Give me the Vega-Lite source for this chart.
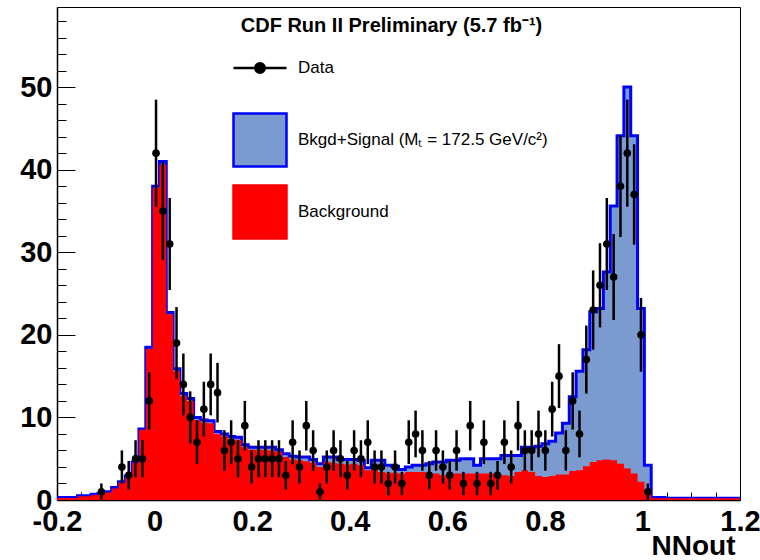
{
  "$schema": "https://vega.github.io/schema/vega-lite/v6.json",
  "width": 683,
  "height": 493,
  "autosize": "none",
  "padding": {"left": 57, "top": 7, "right": 20, "bottom": 60},
  "background": "white",
  "config": {"view": {"stroke": "black", "strokeWidth": 1}, "font": "Liberation Sans"},
  "title": {"text": "CDF Run II Preliminary (5.7 fb⁻¹)", "font": "Liberation Sans", "fontSize": 20, "fontWeight": "bold", "color": "black", "anchor": "middle", "offset": -45, "baseline": "alphabetic", "dx": -7},
  "data": {"values": [
    {"a": -0.2, "c": -0.193, "t": 0.3, "b": 0.25},
    {"a": -0.186, "c": -0.179, "t": 0.3, "b": 0.25},
    {"a": -0.172, "c": -0.165, "t": 0.3, "b": 0.25},
    {"a": -0.158, "c": -0.151, "t": 0.5, "b": 0.45},
    {"a": -0.144, "c": -0.137, "t": 0.5, "b": 0.45},
    {"a": -0.13, "c": -0.123, "t": 0.7, "b": 0.6},
    {"a": -0.116, "c": -0.109, "t": 0.8, "b": 0.7, "n": 1, "lo": 0, "hi": 2},
    {"a": -0.102, "c": -0.095, "t": 1.0, "b": 0.9},
    {"a": -0.088, "c": -0.081, "t": 1.5, "b": 1.4},
    {"a": -0.074, "c": -0.067, "t": 2.2, "b": 2.1, "n": 4, "lo": 2, "hi": 6},
    {"a": -0.06, "c": -0.053, "t": 2.9, "b": 2.8, "n": 3, "lo": 1.27, "hi": 4.73},
    {"a": -0.046, "c": -0.039, "t": 4.6, "b": 4.5, "n": 5, "lo": 2.76, "hi": 7.24},
    {"a": -0.032, "c": -0.025, "t": 8.6, "b": 8.5, "n": 5, "lo": 2.76, "hi": 7.24},
    {"a": -0.018, "c": -0.011, "t": 18.5, "b": 18.3, "n": 12, "lo": 8.54, "hi": 15.46},
    {"a": -0.004, "c": 0.003, "t": 38.0, "b": 37.8, "n": 42, "lo": 35.52, "hi": 48.48},
    {"a": 0.01, "c": 0.017, "t": 41.0, "b": 40.6, "n": 35, "lo": 29.08, "hi": 40.92},
    {"a": 0.024, "c": 0.031, "t": 22.7, "b": 22.5, "n": 31, "lo": 25.43, "hi": 36.57},
    {"a": 0.038, "c": 0.045, "t": 15.9, "b": 15.6, "n": 19, "lo": 14.64, "hi": 23.36},
    {"a": 0.052, "c": 0.059, "t": 12.9, "b": 12.6, "n": 14, "lo": 10.26, "hi": 17.74},
    {"a": 0.066, "c": 0.073, "t": 12.3, "b": 12.0, "n": 10, "lo": 6.84, "hi": 13.16},
    {"a": 0.08, "c": 0.087, "t": 10.0, "b": 9.7, "n": 7, "lo": 4.35, "hi": 9.65},
    {"a": 0.094, "c": 0.101, "t": 9.7, "b": 9.4, "n": 11, "lo": 7.68, "hi": 14.32},
    {"a": 0.108, "c": 0.115, "t": 9.6, "b": 9.3, "n": 14, "lo": 10.26, "hi": 17.74},
    {"a": 0.122, "c": 0.129, "t": 8.3, "b": 8.0, "n": 13, "lo": 9.39, "hi": 16.61},
    {"a": 0.136, "c": 0.143, "t": 8.0, "b": 7.7, "n": 6, "lo": 3.55, "hi": 8.45},
    {"a": 0.15, "c": 0.157, "t": 7.7, "b": 7.4, "n": 7, "lo": 4.35, "hi": 9.65},
    {"a": 0.164, "c": 0.171, "t": 7.6, "b": 7.3, "n": 5, "lo": 2.76, "hi": 7.24},
    {"a": 0.178, "c": 0.185, "t": 6.7, "b": 6.4, "n": 9, "lo": 6, "hi": 12},
    {"a": 0.192, "c": 0.199, "t": 6.4, "b": 6.1, "n": 4, "lo": 2, "hi": 6},
    {"a": 0.206, "c": 0.213, "t": 6.4, "b": 6.1, "n": 5, "lo": 2.76, "hi": 7.24},
    {"a": 0.22, "c": 0.227, "t": 6.4, "b": 6.1, "n": 5, "lo": 2.76, "hi": 7.24},
    {"a": 0.234, "c": 0.241, "t": 6.4, "b": 6.0, "n": 5, "lo": 2.76, "hi": 7.24},
    {"a": 0.248, "c": 0.255, "t": 6.1, "b": 5.8, "n": 5, "lo": 2.76, "hi": 7.24},
    {"a": 0.262, "c": 0.269, "t": 5.6, "b": 5.2, "n": 3, "lo": 1.27, "hi": 4.73},
    {"a": 0.276, "c": 0.283, "t": 5.3, "b": 4.9, "n": 7, "lo": 4.35, "hi": 9.65},
    {"a": 0.29, "c": 0.297, "t": 5.2, "b": 4.8, "n": 4, "lo": 2, "hi": 6},
    {"a": 0.304, "c": 0.311, "t": 5.2, "b": 4.7, "n": 9, "lo": 6, "hi": 12},
    {"a": 0.318, "c": 0.325, "t": 4.9, "b": 4.5, "n": 6, "lo": 3.55, "hi": 8.45},
    {"a": 0.332, "c": 0.339, "t": 4.4, "b": 4.0, "n": 1, "lo": 0, "hi": 2},
    {"a": 0.346, "c": 0.353, "t": 5.2, "b": 4.6, "n": 4, "lo": 2, "hi": 6},
    {"a": 0.36, "c": 0.367, "t": 5.2, "b": 4.5, "n": 6, "lo": 3.55, "hi": 8.45},
    {"a": 0.374, "c": 0.381, "t": 4.9, "b": 4.4, "n": 5, "lo": 2.76, "hi": 7.24},
    {"a": 0.388, "c": 0.395, "t": 4.9, "b": 4.3, "n": 3, "lo": 1.27, "hi": 4.73},
    {"a": 0.402, "c": 0.409, "t": 4.9, "b": 4.4, "n": 6, "lo": 3.55, "hi": 8.45},
    {"a": 0.416, "c": 0.423, "t": 4.8, "b": 4.2, "n": 5, "lo": 2.76, "hi": 7.24},
    {"a": 0.43, "c": 0.437, "t": 3.9, "b": 3.6, "n": 7, "lo": 4.35, "hi": 9.65},
    {"a": 0.444, "c": 0.451, "t": 4.8, "b": 3.7, "n": 4, "lo": 2, "hi": 6},
    {"a": 0.458, "c": 0.465, "t": 4.8, "b": 3.4, "n": 4, "lo": 2, "hi": 6},
    {"a": 0.472, "c": 0.479, "t": 4.2, "b": 3.3, "n": 2, "lo": 0.59, "hi": 3.41},
    {"a": 0.486, "c": 0.493, "t": 4.1, "b": 3.3, "n": 4, "lo": 2, "hi": 6},
    {"a": 0.5, "c": 0.507, "t": 3.7, "b": 3.2, "n": 2, "lo": 0.59, "hi": 3.41},
    {"a": 0.514, "c": 0.521, "t": 4.0, "b": 3.4, "n": 7, "lo": 4.35, "hi": 9.65},
    {"a": 0.528, "c": 0.535, "t": 4.2, "b": 3.4, "n": 8, "lo": 5.17, "hi": 10.83},
    {"a": 0.542, "c": 0.549, "t": 4.2, "b": 3.4, "n": 6, "lo": 3.55, "hi": 8.45},
    {"a": 0.556, "c": 0.563, "t": 4.4, "b": 3.2, "n": 3, "lo": 1.27, "hi": 4.73},
    {"a": 0.57, "c": 0.577, "t": 4.6, "b": 3.2, "n": 6, "lo": 3.55, "hi": 8.45},
    {"a": 0.584, "c": 0.591, "t": 4.6, "b": 3.0, "n": 4, "lo": 2, "hi": 6},
    {"a": 0.598, "c": 0.605, "t": 4.8, "b": 3.0, "n": 3, "lo": 1.27, "hi": 4.73},
    {"a": 0.612, "c": 0.619, "t": 4.8, "b": 3.2, "n": 6, "lo": 3.55, "hi": 8.45},
    {"a": 0.626, "c": 0.633, "t": 5.0, "b": 3.2, "n": 2, "lo": 0.59, "hi": 3.41},
    {"a": 0.64, "c": 0.647, "t": 5.0, "b": 3.2, "n": 9, "lo": 6, "hi": 12},
    {"a": 0.654, "c": 0.661, "t": 4.2, "b": 3.2, "n": 2, "lo": 0.59, "hi": 3.41},
    {"a": 0.668, "c": 0.675, "t": 5.0, "b": 3.2, "n": 7, "lo": 4.35, "hi": 9.65},
    {"a": 0.682, "c": 0.689, "t": 5.0, "b": 3.2, "n": 2, "lo": 0.59, "hi": 3.41},
    {"a": 0.696, "c": 0.703, "t": 5.0, "b": 3.0, "n": 3, "lo": 1.27, "hi": 4.73},
    {"a": 0.71, "c": 0.717, "t": 5.4, "b": 3.0, "n": 7, "lo": 4.35, "hi": 9.65},
    {"a": 0.724, "c": 0.731, "t": 5.4, "b": 2.9, "n": 4, "lo": 2, "hi": 6},
    {"a": 0.738, "c": 0.745, "t": 5.4, "b": 3.4, "n": 9, "lo": 6, "hi": 12},
    {"a": 0.752, "c": 0.759, "t": 6.4, "b": 3.6, "n": 6, "lo": 3.55, "hi": 8.45},
    {"a": 0.766, "c": 0.773, "t": 6.4, "b": 3.4, "n": 6, "lo": 3.55, "hi": 8.45},
    {"a": 0.78, "c": 0.787, "t": 6.5, "b": 2.9, "n": 8, "lo": 5.17, "hi": 10.83},
    {"a": 0.794, "c": 0.801, "t": 6.8, "b": 2.8, "n": 6, "lo": 3.55, "hi": 8.45},
    {"a": 0.808, "c": 0.815, "t": 7.1, "b": 2.9, "n": 11, "lo": 7.68, "hi": 14.32},
    {"a": 0.822, "c": 0.829, "t": 8.1, "b": 3.1, "n": 15, "lo": 11.13, "hi": 18.87},
    {"a": 0.836, "c": 0.843, "t": 9.3, "b": 3.1, "n": 6, "lo": 3.55, "hi": 8.45},
    {"a": 0.85, "c": 0.857, "t": 12.5, "b": 3.5, "n": 12, "lo": 8.54, "hi": 15.46},
    {"a": 0.864, "c": 0.871, "t": 15.6, "b": 3.6, "n": 8, "lo": 5.17, "hi": 10.83},
    {"a": 0.878, "c": 0.885, "t": 18.2, "b": 4.1, "n": 17, "lo": 12.88, "hi": 21.12},
    {"a": 0.892, "c": 0.899, "t": 22.8, "b": 4.6, "n": 23, "lo": 18.2, "hi": 27.8},
    {"a": 0.906, "c": 0.913, "t": 23.2, "b": 4.8, "n": 26, "lo": 20.9, "hi": 31.1},
    {"a": 0.92, "c": 0.927, "t": 27.6, "b": 4.9, "n": 31, "lo": 25.43, "hi": 36.57},
    {"a": 0.934, "c": 0.941, "t": 35.6, "b": 4.8, "n": 27, "lo": 21.8, "hi": 32.2},
    {"a": 0.948, "c": 0.955, "t": 44.1, "b": 4.4, "n": 38, "lo": 31.84, "hi": 44.16},
    {"a": 0.962, "c": 0.969, "t": 50.0, "b": 3.8, "n": 42, "lo": 35.52, "hi": 48.48},
    {"a": 0.976, "c": 0.983, "t": 44.1, "b": 3.2, "n": 37, "lo": 30.92, "hi": 43.08},
    {"a": 0.99, "c": 0.997, "t": 23.2, "b": 2.2, "n": 20, "lo": 15.53, "hi": 24.47},
    {"a": 1.004, "c": 1.011, "t": 4.2, "b": 1.2, "n": 1, "lo": 0, "hi": 2},
    {"a": 1.018, "c": 1.025, "t": 0.3, "b": 0.2},
    {"a": 1.032, "c": 1.039, "t": 0.3, "b": 0.2},
    {"a": 1.046, "c": 1.053, "t": 0.2, "b": 0.2},
    {"a": 1.06, "c": 1.067, "t": 0.2, "b": 0.2},
    {"a": 1.074, "c": 1.081, "t": 0.2, "b": 0.2},
    {"a": 1.088, "c": 1.095, "t": 0.2, "b": 0.2},
    {"a": 1.102, "c": 1.109, "t": 0.2, "b": 0.2},
    {"a": 1.116, "c": 1.123, "t": 0.2, "b": 0.2},
    {"a": 1.13, "c": 1.137, "t": 0.2, "b": 0.2},
    {"a": 1.144, "c": 1.151, "t": 0.2, "b": 0.2},
    {"a": 1.158, "c": 1.165, "t": 0.2, "b": 0.2},
    {"a": 1.172, "c": 1.179, "t": 0.2, "b": 0.2},
    {"a": 1.186, "c": 1.193, "t": 0.2, "b": 0.2},
    {"a": 1.2, "t": 0.2, "b": 0.2}
  ]},
  "layer": [
    {
      "mark": {"type": "area", "interpolate": "step-after", "orient": "vertical", "color": "#7b9ad0", "opacity": 1},
      "encoding": {
        "x": {"field": "a", "type": "quantitative", "scale": {"domain": [-0.2, 1.2], "nice": false, "zero": false},
          "axis": {"orient": "bottom", "values": [-0.2, 0, 0.2, 0.4, 0.6, 0.8, 1, 1.2], "tickSize": -15, "tickColor": "black", "tickWidth": 1, "domainColor": "black", "domainWidth": 1.5, "grid": false, "labelFlush": false, "labelOverlap": false, "labelPadding": 22, "labelFont": "Liberation Sans", "labelFontWeight": "bold", "labelFontSize": 29, "labelColor": "black", "labelExpr": "datum.value < 0 ? '-' + format(-datum.value, '~g') : format(datum.value, '~g')", "title": "NNout", "titleFont": "Liberation Sans", "titleFontWeight": "bold", "titleFontSize": 28, "titleColor": "black", "titleAlign": "right", "titleBaseline": "alphabetic", "titleX": 678, "titleY": 54}},
        "y": {"field": "t", "type": "quantitative", "scale": {"domain": [0, 59.7], "nice": false},
          "axis": {"orient": "left", "values": [0, 10, 20, 30, 40, 50], "tickSize": -18, "tickColor": "black", "tickWidth": 1, "domainColor": "black", "domainWidth": 1.5, "grid": false, "labelPadding": 23, "labelFont": "Liberation Sans", "labelFontWeight": "bold", "labelFontSize": 29, "labelColor": "black", "labelOverlap": false, "title": null}}
      }
    },
    {
      "mark": {"type": "line", "interpolate": "step-after", "color": "#0000ff", "strokeWidth": 3},
      "encoding": {
        "x": {"field": "a", "type": "quantitative", "scale": {"domain": [-0.2, 1.2], "nice": false, "zero": false},
          "axis": {"orient": "bottom", "values": [-0.15, -0.1, -0.05, 0.05, 0.1, 0.15, 0.25, 0.3, 0.35, 0.45, 0.5, 0.55, 0.65, 0.7, 0.75, 0.85, 0.9, 0.95, 1.05, 1.1, 1.15], "tickSize": -8, "tickColor": "black", "tickWidth": 1, "labels": false, "domain": false, "grid": false, "title": null}},
        "y": {"field": "t", "type": "quantitative", "scale": {"domain": [0, 59.7], "nice": false},
          "axis": {"orient": "left", "values": [2, 4, 6, 8, 12, 14, 16, 18, 22, 24, 26, 28, 32, 34, 36, 38, 42, 44, 46, 48, 52, 54, 56, 58], "tickSize": -9, "tickColor": "black", "tickWidth": 1, "labels": false, "domain": false, "grid": false, "title": null}}
      }
    },
    {
      "mark": {"type": "area", "interpolate": "step-after", "orient": "vertical", "color": "#ff0000", "opacity": 1},
      "encoding": {
        "x": {"field": "a", "type": "quantitative", "axis": null},
        "y": {"field": "b", "type": "quantitative", "axis": null}
      }
    },
    {
      "transform": [{"filter": "datum.n > 0"}],
      "mark": {"type": "rule", "color": "#000000", "strokeWidth": 2.5},
      "encoding": {
        "x": {"field": "c", "type": "quantitative", "axis": null},
        "y": {"field": "lo", "type": "quantitative", "axis": null},
        "y2": {"field": "hi"}
      }
    },
    {
      "transform": [{"filter": "datum.n > 0"}],
      "mark": {"type": "circle", "color": "#000000", "size": 58, "opacity": 1},
      "encoding": {
        "x": {"field": "c", "type": "quantitative", "axis": null},
        "y": {"field": "n", "type": "quantitative", "axis": null}
      }
    },
    {
      "data": {"values": [{"s": "Data"}, {"s": "Bkgd+Signal (Mₜ = 172.5 GeV/c²)"}, {"s": "Background"}]},
      "mark": {"type": "point", "filled": true, "opacity": 0},
      "encoding": {
        "fill": {"field": "s", "type": "nominal",
          "scale": {"domain": ["Data", "Bkgd+Signal (Mₜ = 172.5 GeV/c²)", "Background"], "range": ["#000000", "#7b9ad0", "#ff0000"]},
          "legend": {"orient": "none", "legendX": 175, "legendY": 33, "title": null, "padding": 0, "symbolSize": 2809, "symbolStrokeWidth": 2.5, "symbolOpacity": 1, "labelFont": "Liberation Sans", "labelFontSize": 17, "labelColor": "black", "labelOffset": 10, "rowPadding": 8, "labelLimit": 500}},
        "stroke": {"field": "s", "type": "nominal",
          "scale": {"domain": ["Data", "Bkgd+Signal (Mₜ = 172.5 GeV/c²)", "Background"], "range": ["#000000", "#0000ff", "#ff0000"]},
          "legend": {"orient": "none", "legendX": 175, "legendY": 33, "title": null, "padding": 0, "symbolSize": 2809, "symbolStrokeWidth": 2.5, "symbolOpacity": 1, "labelFont": "Liberation Sans", "labelFontSize": 17, "labelColor": "black", "labelOffset": 10, "rowPadding": 8, "labelLimit": 500}},
        "shape": {"field": "s", "type": "nominal",
          "scale": {"domain": ["Data", "Bkgd+Signal (Mₜ = 172.5 GeV/c²)", "Background"], "range": ["M0,-1M0,1M-1,0L1,0M-0.18,0A0.18,0.18 0 1,1 0.18,0A0.18,0.18 0 1,1 -0.18,0Z", "square", "square"]},
          "legend": {"orient": "none", "legendX": 175, "legendY": 33, "title": null, "padding": 0, "symbolSize": 2809, "symbolStrokeWidth": 2.5, "symbolOpacity": 1, "labelFont": "Liberation Sans", "labelFontSize": 17, "labelColor": "black", "labelOffset": 10, "rowPadding": 8, "labelLimit": 500}}
      }
    }
  ],
  "resolve": {"axis": {"x": "independent", "y": "independent"}}
}
